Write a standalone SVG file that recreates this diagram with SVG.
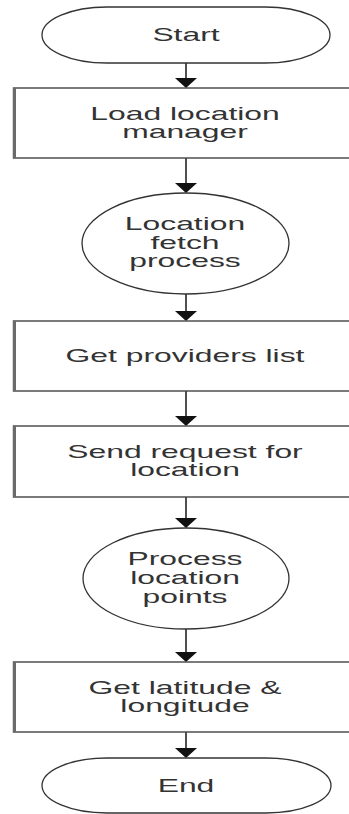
<svg xmlns="http://www.w3.org/2000/svg" width="349" height="814" viewBox="0 0 349 814">
  <style>
    .bg { fill: #ffffff; }
    .term, .proc { fill: #ffffff; stroke: #333333; stroke-width: 1.3; }
    .box { fill: #ffffff; stroke: #444444; stroke-width: 1.4; }
    .boxedge { stroke: #6a6a6a; stroke-width: 3; }
    .lbl { font-family: "Liberation Sans", Arial, sans-serif; font-size: 17.5px; fill: #333333; text-anchor: middle; }
    .flow { stroke: #505050; stroke-width: 2; fill: none; }
    .head { fill: #111111; }
  </style>
  <defs>
    <polygon id="tip" class="head" points="-11,-10 11,-10 0,0"/>
  </defs>

  <rect class="bg" x="0" y="0" width="349" height="814"/>

  <!-- connectors -->
  <g id="connectors">
    <line class="flow" x1="186" y1="63" x2="186" y2="80"/>
    <use href="#tip" x="186" y="88"/>
    <line class="flow" x1="186" y1="158" x2="186" y2="185"/>
    <use href="#tip" x="186" y="193"/>
    <line class="flow" x1="186" y1="294" x2="186" y2="313"/>
    <use href="#tip" x="186" y="321"/>
    <line class="flow" x1="186" y1="391" x2="186" y2="418"/>
    <use href="#tip" x="186" y="426"/>
    <line class="flow" x1="186" y1="497" x2="186" y2="520"/>
    <use href="#tip" x="186" y="528"/>
    <line class="flow" x1="186" y1="629" x2="186" y2="654"/>
    <use href="#tip" x="186" y="662"/>
    <line class="flow" x1="186" y1="732" x2="186" y2="750"/>
    <use href="#tip" x="186" y="758"/>
  </g>

  <!-- Start -->
  <g id="start">
    <rect class="term" x="42" y="7" width="288" height="56" rx="65" ry="28"/>
    <text class="lbl" transform="translate(186,41) scale(1.82,1)">Start</text>
  </g>

  <!-- Load location manager -->
  <g id="load-manager">
    <rect class="box" x="13.5" y="88" width="346" height="70"/>
    <line class="boxedge" x1="14.5" y1="88" x2="14.5" y2="158"/>
    <text class="lbl" transform="translate(185,119.5) scale(1.82,1)">Load location</text>
    <text class="lbl" transform="translate(185,137.5) scale(1.82,1)">manager</text>
  </g>

  <!-- Location fetch process -->
  <g id="fetch-process">
    <ellipse class="proc" cx="185.5" cy="243.5" rx="103.5" ry="50.5"/>
    <text class="lbl" transform="translate(185,230) scale(1.82,1)">Location</text>
    <text class="lbl" transform="translate(185,248.5) scale(1.82,1)">fetch</text>
    <text class="lbl" transform="translate(185,267) scale(1.82,1)">process</text>
  </g>

  <!-- Get providers list -->
  <g id="providers">
    <rect class="box" x="13.5" y="321" width="346" height="70"/>
    <line class="boxedge" x1="14.5" y1="321" x2="14.5" y2="391"/>
    <text class="lbl" transform="translate(185,361.5) scale(1.82,1)">Get providers list</text>
  </g>

  <!-- Send request for location -->
  <g id="send-request">
    <rect class="box" x="13.5" y="426" width="346" height="71"/>
    <line class="boxedge" x1="14.5" y1="426" x2="14.5" y2="497"/>
    <text class="lbl" transform="translate(185,457.5) scale(1.82,1)">Send request for</text>
    <text class="lbl" transform="translate(185,475.5) scale(1.82,1)">location</text>
  </g>

  <!-- Process location points -->
  <g id="process-points">
    <ellipse class="proc" cx="186" cy="578.5" rx="103" ry="50.5"/>
    <text class="lbl" transform="translate(185,565) scale(1.82,1)">Process</text>
    <text class="lbl" transform="translate(185,584) scale(1.82,1)">location</text>
    <text class="lbl" transform="translate(185,603) scale(1.82,1)">points</text>
  </g>

  <!-- Get latitude & longitude -->
  <g id="lat-long">
    <rect class="box" x="13.5" y="662" width="346" height="70"/>
    <line class="boxedge" x1="14.5" y1="662" x2="14.5" y2="732"/>
    <text class="lbl" transform="translate(185,693.5) scale(1.82,1)">Get latitude &amp;</text>
    <text class="lbl" transform="translate(185,711.5) scale(1.82,1)">longitude</text>
  </g>

  <!-- End -->
  <g id="end">
    <rect class="term" x="42" y="758" width="289" height="55" rx="65" ry="27.5"/>
    <text class="lbl" transform="translate(186,791.5) scale(1.82,1)">End</text>
  </g>
</svg>
